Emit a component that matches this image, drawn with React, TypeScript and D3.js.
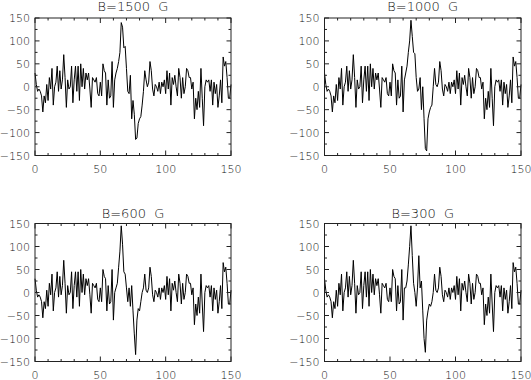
import * as d3 from 'd3'

const titles = ['B=1500  G', 'B=1000  G', 'B=600  G', 'B=300  G']
const xTicks = [0, 50, 100, 150]
const yTicks = [-150, -100, -50, 0, 50, 100, 150]

const base1500 = [
  30, 5, -10, -5, -10, -20, -55, -20, -35, 5,
  -30, 20, -5, 40, -40, 0, 10, 45, -10, 35,
  -5, 15, 70, 20, -45, 15, -5, 0, 45, -35,
  15, 45, -10, 45, -30, 50, 0, 40, -5, 30,
  15, 30, -5, -45, 20, 15, 10, 20, -15, -20,
  10, -20, 50, 35, 30, -40, 15, -25, -20, 55,
  -45, 15, 30, 40, 55, 75, 140, 130, 85, 88,
  40, -10, -15, 25, -70, -30, -60, -115, -112, -80,
  -70, -65, -40, -10, 35, 15, 0, 10, 55, 35,
  -5, -20, 5, 0, -10, 10, -15, 10, 0, 15,
  -15, 35, -5, 30, -40, 20, 5, 25, 0, -20,
  40, 20, -25, 20, -15, 0, 40, 35, 20, 20,
  -5, 10, -70, -25, -50, -10, -45, 40, -25, -85,
  0, 15, 10, 15, -10, 15, -40, 10, -15, 5,
  -45, -20, 15, -35, 65, 45, 55, 20, -25, -25,
  5,
]

// the other fields differ only around the line core, x = 59..85
const coreStart = 59
const core1000 = [
  45, -55, 15, 30, 45, 75, 100, 145, 110, 75,
  72, 20, -10, -5, 20, -50, 0, -70, -135, -140,
  -70, -55, -45, -40, 0, 40, 5,
]
const core600 = [
  50, -60, 0, 10, 20, 55, 90, 145, 105, 45,
  40, 10, -20, 10, -30, 15, -40, -90, -135, -60,
  -35, -40, -20, 0, 10, 40, 5,
]
const core300 = [
  50, -60, 10, 10, 25, 60, 100, 145, 80, 20,
  0, -30, 10, 80, 10, 25, -40, -100, -130, -60,
  -40, -25, -30, -20, 0, 40, 5,
]

const withCore = (core: number[]) => base1500.map((v, i) =>
  i >= coreStart && i < coreStart + core.length ? core[i - coreStart] : v)

const series = [base1500, withCore(core1000), withCore(core600), withCore(core300)]

const panels = [
  { left: 35, top: 18, width: 196, height: 137.5, titleY: 10.5 },
  { left: 324.5, top: 18, width: 196.5, height: 137.5, titleY: 10.5 },
  { left: 35, top: 223.5, width: 196, height: 138, titleY: 218 },
  { left: 324.5, top: 223.5, width: 196.5, height: 138, titleY: 218 },
]

const font = '"DejaVu Sans", sans-serif'
const ink = '#111'

const fmt = (v: number) => (v < 0 ? '\u2212' + Math.abs(v) : String(v))

function Panel({ idx }: { idx: number }) {
  const p = panels[idx]
  const x = d3.scaleLinear().domain([0, 150]).range([p.left, p.left + p.width])
  const y = d3.scaleLinear().domain([-150, 150]).range([p.top + p.height, p.top])
  const data = series[idx]
  const line = d3.line<number>().x((_, i) => x(i)).y(d => y(d))
  const xMinor = d3.range(0, 151, 10)
  const yMinor = d3.range(-150, 151, 25)
  const bottom = p.top + p.height
  const right = p.left + p.width

  return (
    <g>
      <text x={x(75)} y={p.titleY} textAnchor="middle" fontFamily={font}
        fontSize={13} fontWeight={300} fill={ink} style={{ whiteSpace: 'pre' }}>
        {titles[idx]}
      </text>
      <path d={line(data) ?? ''} fill="none" stroke="#000" strokeWidth={1} />
      <rect x={p.left} y={p.top} width={p.width} height={p.height}
        fill="none" stroke="#222" strokeWidth={1} />
      {xMinor.map(t => {
        const len = t % 50 === 0 ? 5 : 2.5
        return (
          <g key={'x' + t} stroke="#222" strokeWidth={1}>
            <line x1={x(t)} x2={x(t)} y1={bottom} y2={bottom - len} />
            <line x1={x(t)} x2={x(t)} y1={p.top} y2={p.top + len} />
          </g>
        )
      })}
      {yMinor.map(t => {
        const len = t % 50 === 0 ? 4.5 : 2.5
        return (
          <g key={'y' + t} stroke="#222" strokeWidth={1}>
            <line x1={p.left} x2={p.left + len} y1={y(t)} y2={y(t)} />
            <line x1={right} x2={right - len} y1={y(t)} y2={y(t)} />
          </g>
        )
      })}
      {xTicks.map(t => (
        <text key={'xl' + t} x={x(t)} y={bottom + 17} textAnchor="middle"
          fontFamily={font} fontSize={11} fontWeight={300} fill={ink}>{t}</text>
      ))}
      {yTicks.map(t => (
        <text key={'yl' + t} x={p.left - 5} y={y(t) + 4} textAnchor="end"
          fontFamily={font} fontSize={11} fontWeight={300} fill={ink}>{fmt(t)}</text>
      ))}
    </g>
  )
}

export default function App() {
  return (
    <svg width={531} height={380} style={{ position: 'absolute', left: 0, top: 0, background: '#fff' }}>
      <rect width={531} height={380} fill="#fff" />
      {panels.map((_, i) => <Panel key={i} idx={i} />)}
    </svg>
  )
}
